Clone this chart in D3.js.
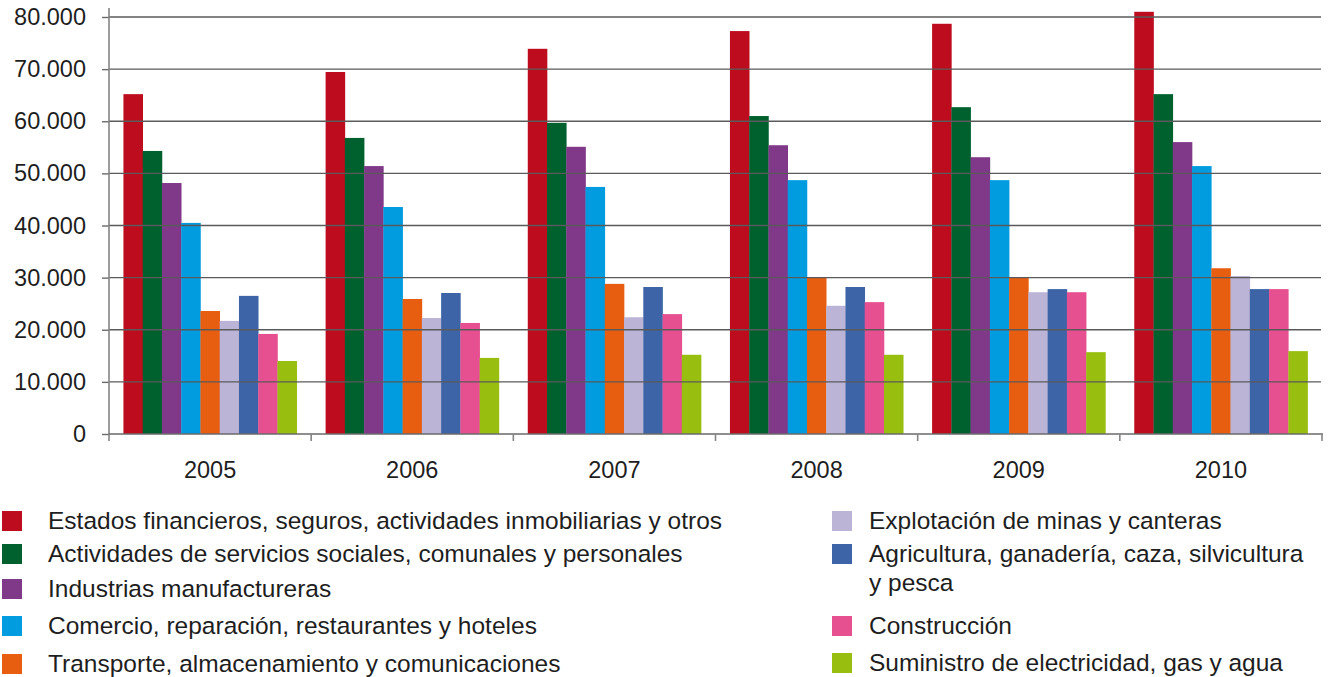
<!DOCTYPE html>
<html>
<head>
<meta charset="utf-8">
<script src="https://cdn.jsdelivr.net/npm/d3@7"></script>
<style>
  html, body { margin: 0; padding: 0; background: #fff; }
  svg { display: block; }
  text { font-family: "Liberation Sans", Arial, Helvetica, sans-serif; fill: #1e1e1e; }
</style>
</head>
<body>
<svg id="chart" width="1331" height="677"></svg>
<script>
// ---- Data ----
const years = ["2005", "2006", "2007", "2008", "2009", "2010"];
const seriesNames = [
  "Estados financieros, seguros, actividades inmobiliarias y otros",
  "Actividades de servicios sociales, comunales y personales",
  "Industrias manufactureras",
  "Comercio, reparación, restaurantes y hoteles",
  "Transporte, almacenamiento y comunicaciones",
  "Explotación de minas y canteras",
  "Agricultura, ganadería, caza, silvicultura y pesca",
  "Construcción",
  "Suministro de electricidad, gas y agua"
];
const seriesColors = ["#BE0C1F", "#00612F", "#803888", "#009CDF", "#E85E10", "#BBB4D6", "#3E64A8", "#E65090", "#98BE10"];
const finanzas     = [65200, 69450, 73900, 77300, 78700, 81000];
const servicios    = [54300, 56800, 59700, 61000, 62700, 65200];
const industrias   = [48150, 51400, 55100, 55400, 53100, 56000];
const comercio     = [40500, 43550, 47400, 48700, 48700, 51400];
const transporte   = [23600, 25900, 28800, 30100, 30100, 31800];
const minas        = [21700, 22250, 22400, 24600, 27200, 30300];
const agricultura  = [26500, 27050, 28200, 28200, 27800, 27800];
const construccion = [19200, 21300, 23000, 25300, 27200, 27800];
const electricidad = [14000, 14600, 15200, 15200, 15700, 15900];
const seriesValues = [finanzas, servicios, industrias, comercio, transporte, minas, agricultura, construccion, electricidad];
const yTicks = [0, 10000, 20000, 30000, 40000, 50000, 60000, 70000, 80000];

// ---- Layout ----
const svg = d3.select("#chart");
const plotLeft = 109, plotRight = 1322, plotTop = 8, yZero = 434, yTopTick = 17;
const axisFont = 23.5, legendFont = 24.5;

const x0 = d3.scaleBand().domain(years).range([plotLeft, plotRight]).paddingInner(0).paddingOuter(0);
const x1 = d3.scaleBand().domain(d3.range(seriesNames.length)).range([0, x0.bandwidth()]).paddingInner(0).paddingOuter(0.75);
const y = d3.scaleLinear().domain([0, 80000]).range([yZero, yTopTick]);

const locale = d3.formatLocale({ decimal: ",", thousands: ".", grouping: [3], currency: ["", ""] });
const fmt = locale.format(",");

// bars
const groups = svg.append("g").selectAll("g").data(years).join("g")
  .attr("transform", d => `translate(${x0(d)},0)`);
groups.selectAll("rect")
  .data((yr, yi) => seriesValues.map((vals, si) => ({ si, v: vals[yi] })))
  .join("rect")
  .attr("x", d => x1(d.si))
  .attr("width", x1.bandwidth() + 0.3)
  .attr("y", d => y(d.v))
  .attr("height", d => yZero - y(d.v))
  .attr("fill", d => seriesColors[d.si]);

// gridlines on top of bars
svg.append("g").selectAll("line").data(yTicks.filter(t => t > 0)).join("line")
  .attr("x1", plotLeft).attr("x2", plotRight - 1)
  .attr("y1", d => y(d)).attr("y2", d => y(d))
  .attr("stroke", "#5a5a5a").attr("stroke-width", 1.4);

// y axis
const yAxis = d3.axisLeft(y).tickValues(yTicks).tickFormat(fmt).tickSize(7).tickPadding(16);
const gy = svg.append("g").attr("transform", `translate(${plotLeft},0)`).call(yAxis);
gy.select(".domain").remove();
gy.selectAll(".tick line").attr("stroke", "#6a6a6a").attr("stroke-width", 1.4);
gy.selectAll(".tick text").attr("font-size", axisFont).attr("font-family", null).attr("fill", "#1e1e1e");
svg.append("line").attr("x1", plotLeft).attr("x2", plotLeft).attr("y1", plotTop).attr("y2", yZero + 7)
  .attr("stroke", "#858585").attr("stroke-width", 1.6);

// x axis
svg.append("line").attr("x1", plotLeft).attr("x2", plotRight + 1).attr("y1", yZero).attr("y2", yZero)
  .attr("stroke", "#6a6a6a").attr("stroke-width", 1.6);
const boundaries = years.map(d => x0(d)).concat([plotRight]);
svg.append("g").selectAll("line").data(boundaries.slice(1)).join("line")
  .attr("x1", d => d).attr("x2", d => d).attr("y1", yZero).attr("y2", yZero + 7)
  .attr("stroke", "#858585").attr("stroke-width", 1.6);
const xAxis = d3.axisBottom(x0).tickSize(0).tickPadding(27);
const gx = svg.append("g").attr("transform", `translate(0,${yZero})`).call(xAxis);
gx.select(".domain").remove();
gx.selectAll(".tick text").attr("font-size", axisFont).attr("font-family", null).attr("fill", "#1e1e1e");

// legend
const legendCols = [
  { x: 2, textX: 48, items: [0, 1, 2, 3, 4], rows: [521, 554, 589, 626, 664] },
  { x: 832, textX: 869, items: [5, 6, 7, 8], rows: [521, 554, 626, 663] }
];
const wrapLines = { 6: ["Agricultura, ganadería, caza, silvicultura", "y pesca"] };
const lg = svg.append("g");
legendCols.forEach(col => {
  col.items.forEach((si, k) => {
    const cy = col.rows[k];
    lg.append("rect").attr("x", col.x).attr("y", cy - 10).attr("width", 20).attr("height", 20)
      .attr("fill", seriesColors[si]);
    const lines = wrapLines[si] || [seriesNames[si]];
    const t = lg.append("text").attr("x", col.textX).attr("y", cy + 8).attr("font-size", legendFont);
    lines.forEach((ln, i) => {
      t.append("tspan").attr("x", col.textX).attr("dy", i === 0 ? 0 : 29).text(ln);
    });
  });
});
</script>
</body>
</html>
